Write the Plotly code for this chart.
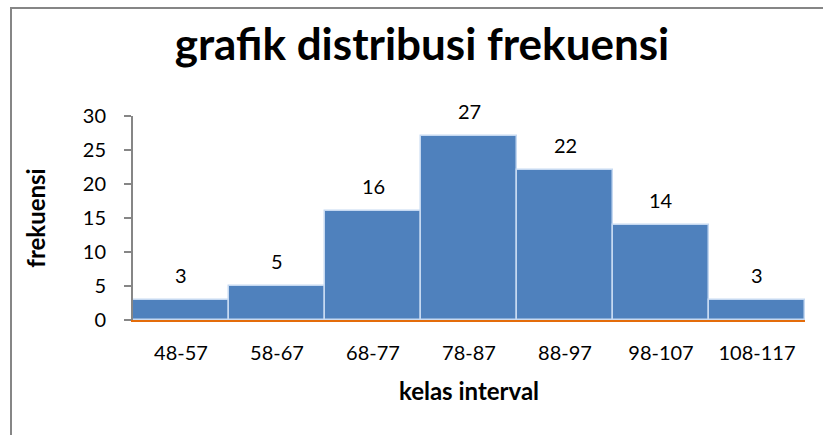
import plotly.graph_objects as go

# data
kelas = ["48-57", "58-67", "68-77", "78-87", "88-97", "98-107", "108-117"]
frekuensi = [3, 5, 16, 27, 22, 14, 3]
y_ticks = [0, 5, 10, 15, 20, 25, 30]

W, H = 823, 435
L, R, T, B = 133, 18, 116, 115
FONT = "Lato, Carlito, Calibri, sans-serif"


def px_to_paper(px, py):
    pw = W - L - R
    ph = H - T - B
    return (px - L) / pw, (H - B - py) / ph


fig = go.Figure(
    go.Bar(
        x=kelas,
        y=frekuensi,
        marker=dict(color="#4F81BD", line=dict(color="#C6D9F1", width=1.5)),
        hoverinfo="x+y",
    )
)

for k, v in zip(kelas, frekuensi):
    fig.add_annotation(
        x=k, y=v, text=str(v), showarrow=False, yshift=25,
        font=dict(size=20, color="#000000", family=FONT),
    )

# chart-area frame (only top and left edges fall inside the window)
fx0, fy0 = px_to_paper(11, 8)
fx1, fy1 = px_to_paper(W + 10, H + 10)
fig.add_shape(type="rect", xref="paper", yref="paper",
              x0=fx0, y0=fy1, x1=fx1, y1=fy0,
              line=dict(color="#868686", width=2), fillcolor="rgba(0,0,0,0)",
              layer="below")

fig.update_layout(
    width=W,
    height=H,
    margin=dict(l=L, r=R, t=T, b=B, autoexpand=False),
    paper_bgcolor="white",
    plot_bgcolor="white",
    bargap=0,
    showlegend=False,
    font=dict(family=FONT, color="#000000"),
    title=dict(
        text="<b>grafik distribusi frekuensi</b>",
        x=422 / W, xanchor="center",
        y=1 - 45 / H, yanchor="middle",
        font=dict(size=44, family=FONT, color="#000000"),
    ),
    xaxis=dict(
        automargin=False,
        showgrid=False,
        showline=True, linecolor="#E46C0A", linewidth=2,
        ticks="", tickfont=dict(size=20),
        title=dict(text="<b>kelas interval</b>", font=dict(size=24), standoff=20),
        ticklabelstandoff=14,
    ),
    yaxis=dict(
        automargin=False,
        range=[0, 30],
        tickvals=y_ticks,
        showgrid=False,
        showline=True, linecolor="#868686", linewidth=2,
        ticks="outside", ticklen=7, tickcolor="#868686", tickwidth=1.5,
        tickfont=dict(size=20),
        ticklabelstandoff=14,
        title=dict(text="<b>frekuensi</b>", font=dict(size=24), standoff=30),
        zeroline=False,
    ),
)

# page has a default body margin; remove it so the figure sits at the window origin
fig.write_html(
    "out.html",
    config={"displayModeBar": False},
    post_script="document.body.style.margin='0';",
)
